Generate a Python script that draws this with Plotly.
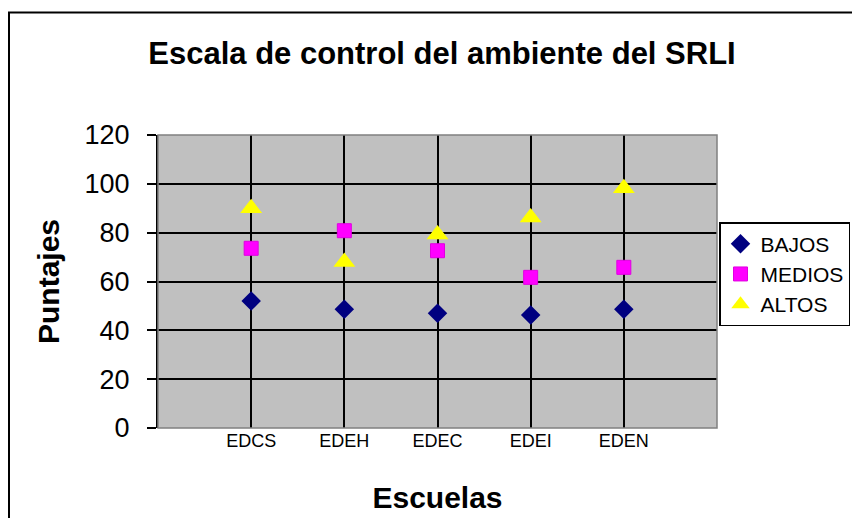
import plotly.graph_objects as go

escuelas = ["EDCS", "EDEH", "EDEC", "EDEI", "EDEN"]
posiciones = [1, 2, 3, 4, 5]
bajos = [52, 48.6, 47, 46.3, 48.6]
medios = [73.6, 80.8, 72.6, 61.7, 65.8]
altos = [90, 68, 79.2, 86.2, 98.2]
y_ticks = [0, 20, 40, 60, 80, 100, 120]

# page has an 8px body margin; figure coordinates = page - 8
OFF = 8
W, H = 852, 510
L, T = 158 - OFF, 135 - OFF
R = W - (717 - OFF)
B = H - (428 - OFF)
pw, ph = W - L - R, H - T - B

def px(x):
    return (x - OFF - L) / pw

def py(y):
    return (H - B - (y - OFF)) / ph

fig = go.Figure()
fig.add_trace(go.Scatter(x=posiciones, y=bajos, mode="markers", name="BAJOS",
                         marker=dict(symbol="diamond", size=15, color="#000080",
                                     line=dict(width=0))))
fig.add_trace(go.Scatter(x=posiciones, y=medios, mode="markers", name="MEDIOS",
                         marker=dict(symbol="square", size=14, color="#FF00FF",
                                     line=dict(width=1, color="#E000E0"))))
fig.add_trace(go.Scatter(x=posiciones, y=altos, mode="markers", name="ALTOS",
                         marker=dict(symbol="triangle-up", size=19, color="#FFFF00",
                                     line=dict(width=0))))

fig.update_layout(
    width=W, height=H,
    margin=dict(l=L, r=R, t=T, b=B, autoexpand=False),
    paper_bgcolor="white",
    plot_bgcolor="#C0C0C0",
    font=dict(family="Liberation Sans, Arial, sans-serif", color="black"),
    title=dict(text="<b>Escala de control del ambiente del SRLI</b>",
               x=(442 - OFF) / W, xanchor="center", xref="container",
               y=1 - (53 - OFF) / H, yanchor="middle", yref="container",
               font=dict(size=31, color="black")),
    xaxis=dict(range=[0, 6], tickvals=posiciones, ticktext=escuelas,
               showgrid=True, gridcolor="black", gridwidth=1.5,
               zeroline=False, showline=False, ticks="",
               tickfont=dict(size=18),
               title=dict(text="<b>Escuelas</b>", font=dict(size=30), standoff=36)),
    yaxis=dict(range=[0, 120], tickvals=y_ticks,
               showgrid=True, gridcolor="black", gridwidth=2,
               zeroline=False, showline=True, linecolor="black", linewidth=2,
               ticks="outside", ticklen=9, tickwidth=2, tickcolor="black",
               tickfont=dict(size=27), ticklabelstandoff=12,
               title=dict(text="<b>Puntajes</b>", font=dict(size=30), standoff=16)),
    legend=dict(x=px(719), xanchor="left", y=py(222), yanchor="top",
                bgcolor="white", bordercolor="black", borderwidth=1.5,
                font=dict(size=21), itemwidth=30, tracegroupgap=0),
    showlegend=True,
    shapes=[
        dict(type="rect", xref="paper", yref="paper", x0=0, x1=1, y0=0, y1=1,
             line=dict(color="#808080", width=1.5), layer="above"),
        dict(type="rect", xref="paper", yref="paper",
             x0=px(9), x1=px(900), y0=py(560), y1=py(12.5),
             line=dict(color="black", width=2)),
    ],
)

fig.write_html("out.html")
